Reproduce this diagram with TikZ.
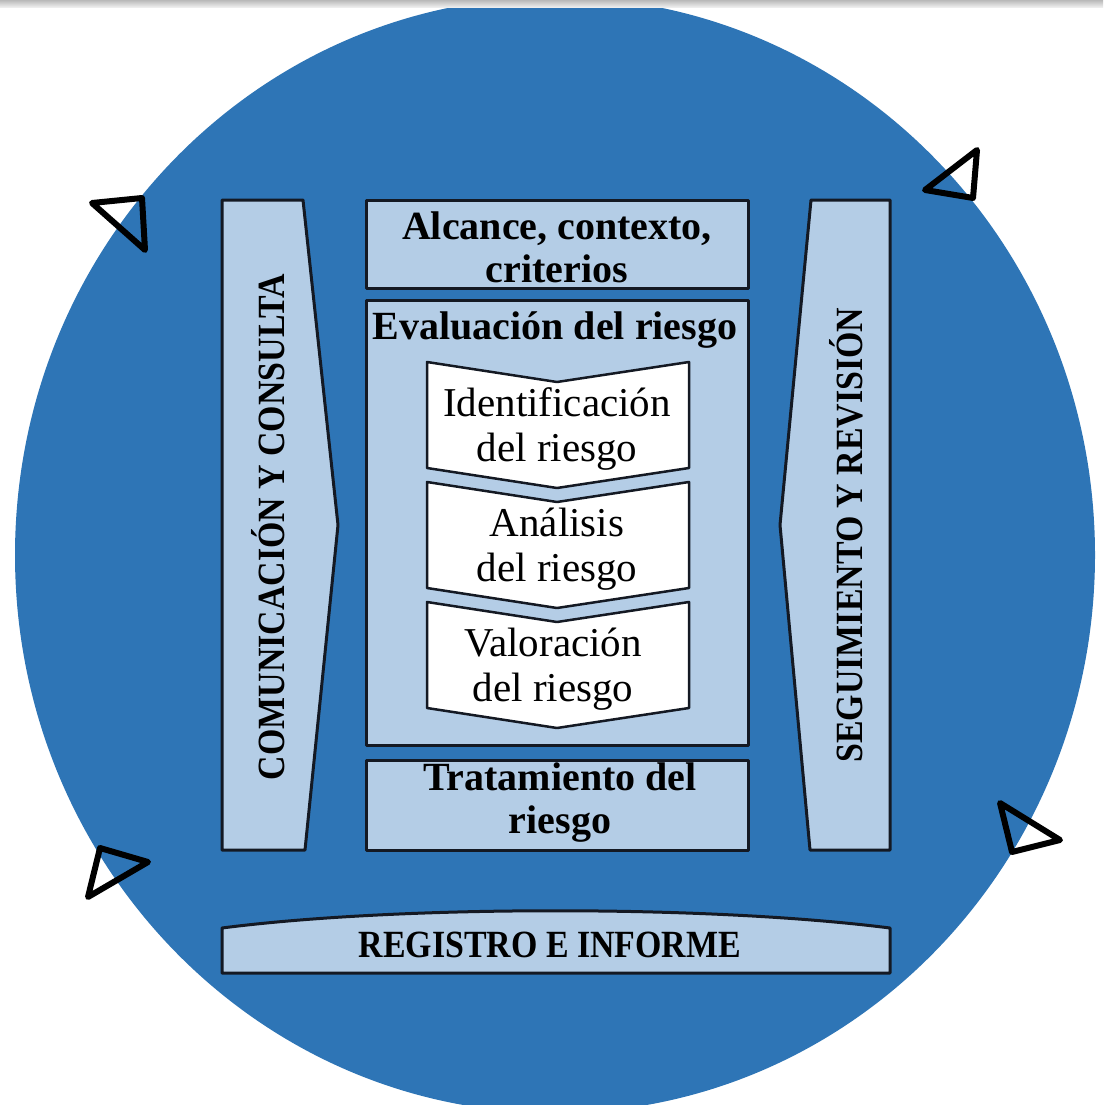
\documentclass[tikz,border=0pt]{standalone}
\usepackage{fontspec}
\setmainfont{Liberation Serif}
\newfontfamily\condensada{Liberation Serif}[FakeStretch=0.88]
\usepackage{tikz}
\definecolor{azulcirculo}{RGB}{46,117,182}
\definecolor{azulclaro}{RGB}{180,205,230}
\definecolor{bordecaja}{RGB}{20,25,35}
\begin{document}
\begin{tikzpicture}[x=1pt,y=-1pt,
		caja/.style={draw=bordecaja,line width=3pt,fill=azulclaro,line join=round},
		chevron/.style={draw=bordecaja,line width=2.5pt,fill=white,line join=round},
		punta/.style={draw=black,line width=6pt,line join=round},
		titulo/.style={inner sep=0pt,align=center,font=\fontsize{40}{43}\selectfont\bfseries},
		mayus/.style={inner sep=0pt,font=\condensada\fontsize{38.5}{40}\selectfont\bfseries},
		paso/.style={inner sep=0pt,align=center,font=\fontsize{41}{45}\selectfont}]
	\useasboundingbox (0.,0.) rectangle (1103.,1105.);
	\begin{scope}
		\clip (0.,0.) rectangle (1103.,1105.);
		\fill [azulcirculo] (555.,555.) ellipse [x radius=540, y radius=558];
	\end{scope}
	\shade [top color=gray!55,bottom color=gray!8] (0.,0.) rectangle (1103.,8.);
	
	% puntas de flecha sobre el borde
	\draw [punta] (92.,203.) -- (142.,198.) -- (145.,250.) -- cycle;
	\draw [punta] (925.,190.) -- (977.,150.) -- (973.,198.) -- cycle;
	\draw [punta] (100.,848.) -- (148.,862.) -- (88.,897.) -- cycle;
	\draw [punta] (1000.,803.) -- (1060.,840.) -- (1012.,852.) -- cycle;
	
	% columnas laterales
	\draw [caja] (222.,200.) -- (303.,200.) -- (338.,525.) -- (305.,850.) -- (222.,850.) -- cycle;
	\draw (268.,527.) node [mayus,rotate=90] (comunicacion) {COMUNICACIÓN Y CONSULTA};
	\draw [caja] (811.,200.) -- (890.,200.) -- (890.,850.) -- (810.,850.) -- (780.,525.) -- cycle;
	\draw (846.,535.) node [mayus,rotate=90] (seguimiento) {SEGUIMIENTO Y REVISIÓN};
	
	% bloque central
	\draw [caja] (366.,200.) rectangle (748.,288.);
	\draw (557.,247.) node [titulo] (alcance) {Alcance, contexto,\\criterios};
	\draw [caja] (366.,300.) rectangle (748.,745.);
	\draw (555.,330.) node [titulo] (evaluacion) {Evaluación del riesgo};
	
	\draw [chevron] (427.,362.) -- (557.,382.) -- (689.,362.) -- (689.,468.) -- (557.,488.) -- (427.,468.) -- cycle;
	\draw (557.,429.) node [paso] (identificacion) {Identificación\\del riesgo};
	\draw [chevron] (427.,482.) -- (557.,502.) -- (689.,482.) -- (689.,588.) -- (557.,608.) -- (427.,588.) -- cycle;
	\draw (557.,549.) node [paso] (analisis) {Análisis\\del riesgo};
	\draw [chevron] (427.,602.) -- (557.,622.) -- (689.,602.) -- (689.,708.) -- (557.,728.) -- (427.,708.) -- cycle;
	\draw (553.,669.) node [paso] (valoracion) {Valoración\\del riesgo};
	
	\draw [caja] (366.,760.) rectangle (748.,850.);
	\draw (560.,803.) node [titulo] (tratamiento) {Tratamiento del\\riesgo};
	
	% franja inferior
	\draw [caja] (222.,973.) -- (222.,928.) .. controls (400.,905.) and (710.,905.) .. (890.,928.) -- (890.,973.) -- cycle;
	\draw (550.,945.) node [mayus] (registro) {REGISTRO E INFORME};
\end{tikzpicture}
\end{document}
